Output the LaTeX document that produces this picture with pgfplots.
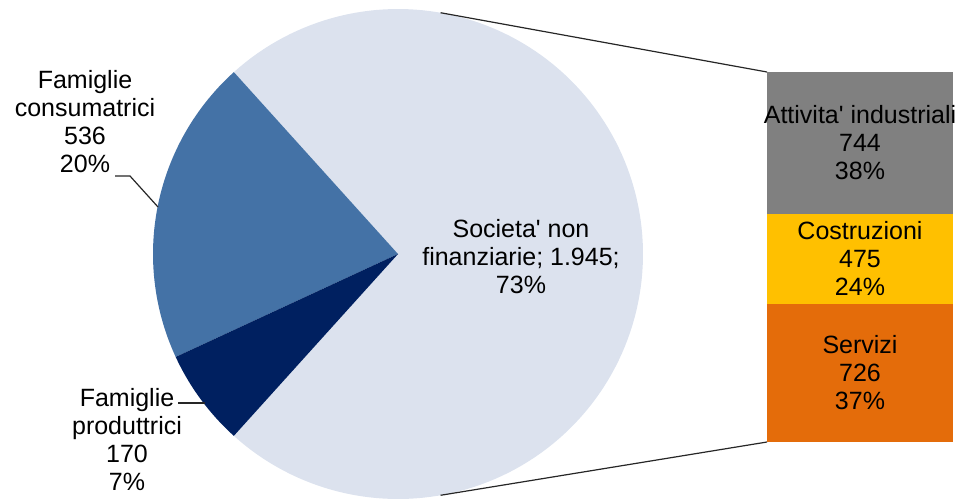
\documentclass[border=0pt]{standalone}
\usepackage{pgfplots}
\pgfplotsset{compat=1.18}
\usepgfplotslibrary{polar}
\usepackage{fontspec}
\setmainfont{Liberation Sans}[Ligatures=TeXOff]
\definecolor{soc}{HTML}{DCE2EE}
\definecolor{cons}{HTML}{4472A6}
\definecolor{prod}{HTML}{002060}
\definecolor{att}{HTML}{808080}
\definecolor{cost}{HTML}{FFC000}
\definecolor{serv}{HTML}{E46C0A}
\begin{document}
\begin{tikzpicture}[font=\fontsize{12.5}{14}\selectfont]
\path[use as bounding box] (0pt,0pt) rectangle (480.5pt,249.5pt);
% pie data
\def\vCons{536}\def\vProd{170}\def\vSoc{1945}
\pgfmathsetmacro\tot{\vCons+\vProd+\vSoc}
\pgfmathsetmacro\aS{180*(\vSoc/\tot)}
\pgfmathsetmacro\aC{\aS+360*(\vCons/\tot)}
\pgfmathsetmacro\aP{\aC+360*(\vProd/\tot)}
\begin{polaraxis}[at={(199pt,122.5pt)}, anchor=center, scale only axis,
  width=245pt, height=245pt, hide axis, ymin=0, ymax=1, xmin=0, xmax=360, clip=false]
\addplot[fill=soc, draw=none, domain=-\aS:\aS, samples=150] {1} -- (axis cs:0,0) -- cycle;
\addplot[fill=cons, draw=none, domain=\aS:\aC, samples=60] {1} -- (axis cs:0,0) -- cycle;
\addplot[fill=prod, draw=none, domain=\aC:\aP, samples=30] {1} -- (axis cs:0,0) -- cycle;
\coordinate (t) at (axis cs:80,1);
\coordinate (b) at (axis cs:-80,1);
\end{polaraxis}
\begin{axis}[at={(383.5pt,28.5pt)}, anchor=south west, scale only axis,
  width=93pt, height=185pt, hide axis, ybar stacked, bar width=93pt,
  xmin=-0.5, xmax=0.5, ymin=0, ymax=1945, clip=false]
\addplot[fill=serv, draw=none] coordinates {(0,726)};
\addplot[fill=cost, draw=none] coordinates {(0,475)};
\addplot[fill=att, draw=none] coordinates {(0,744)};
\coordinate (lS) at (axis cs:0,363);
\coordinate (lC) at (axis cs:0,963.5);
\coordinate (lA) at (axis cs:0,1573);
\end{axis}
\node[align=center, inner sep=0pt] at (lS) {Servizi\\726\\37\%};
\node[align=center, inner sep=0pt] at (lC) {Costruzioni\\475\\24\%};
\node[align=center, inner sep=0pt] at (lA) {Attivita' industriali\\744\\38\%};
\begin{scope}[x=0.5pt,y=0.5pt]
\draw[line width=0.6pt, black!85] (t) -- (767,427);
\draw[line width=0.6pt, black!85] (b) -- (767,57);
\draw[line width=0.6pt, black!85] (115,323) -- (130,323) -- (158,292);
\draw[line width=0.6pt, black!85] (178,96) -- (205,96);
\node[align=center, inner sep=0pt] at (85,377) {Famiglie\\consumatrici\\536\\20\%};
\node[align=center, inner sep=0pt] at (127,59) {Famiglie\\produttrici\\170\\7\%};
\node[align=center, inner sep=0pt] at (521,242) {Societa' non\\finanziarie; 1.945;\\73\%};
\end{scope}
\end{tikzpicture}
\end{document}
